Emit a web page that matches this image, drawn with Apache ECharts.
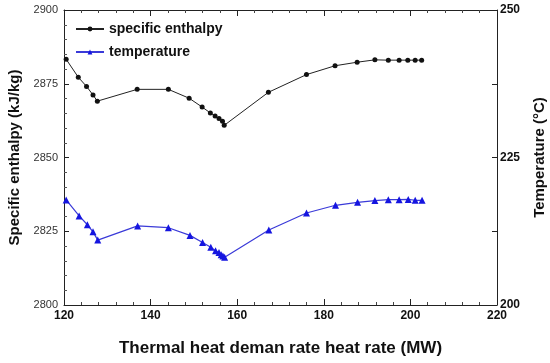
<!DOCTYPE html>
<html>
<head>
<meta charset="utf-8">
<script src="https://cdn.jsdelivr.net/npm/echarts@6/dist/echarts.min.js"></script>
<style>html,body{margin:0;padding:0;background:#fff}#c{width:550px;height:363px}</style>
</head>
<body>
<div id="c"></div>
<script>
var heatRate = [120.5, 123.3, 125.2, 126.7, 127.7, 136.9, 144.1, 148.9, 151.9, 153.8, 154.9, 155.8, 156.6, 157.0, 167.2, 176.0, 182.6, 187.7, 191.8, 194.9, 197.4, 199.4, 201.1, 202.6];
var enthalpy = [2883.3, 2877.2, 2874.1, 2871.2, 2869.1, 2873.1, 2873.1, 2870.1, 2867.1, 2865.1, 2864.1, 2863.2, 2862.3, 2860.9, 2872.1, 2878.1, 2881.1, 2882.3, 2883.1, 2883.0, 2883.0, 2883.0, 2883.0, 2883.0];
var heatRateT = [120.5, 123.5, 125.4, 126.7, 127.8, 137.0, 144.1, 149.1, 152.0, 153.9, 155.0, 155.8, 156.3, 156.7, 157.1, 167.3, 176.0, 182.7, 187.8, 191.8, 194.9, 197.4, 199.5, 201.1, 202.7];
var temperature = [217.8, 215.1, 213.6, 212.4, 211.0, 213.4, 213.1, 211.8, 210.6, 209.8, 209.2, 208.9, 208.5, 208.3, 208.1, 212.7, 215.6, 216.9, 217.4, 217.7, 217.85, 217.85, 217.9, 217.75, 217.75];
var xTicks = [120, 140, 160, 180, 200, 220];
var leftTicks = [2800, 2825, 2850, 2875, 2900];
var rightTicks = [200, 225, 250];

function pairs(xs, ys) { return xs.map(function (x, i) { return [x, ys[i]]; }); }

var chart = echarts.init(document.getElementById('c'), null, {renderer: 'canvas'});
var axisLine = {show: true, lineStyle: {color: '#222', width: 1}};
chart.setOption({
  animation: false,
  backgroundColor: '#fff',
  grid: {left: 64, right: 53, top: 10, bottom: 58, containLabel: false, outerBoundsMode: 'none'},
  legend: {
    left: 70, top: 17, orient: 'vertical', itemGap: 9, itemWidth: 28, itemHeight: 6,
    textStyle: {fontFamily: 'Liberation Sans, Arial', fontWeight: 'bold', fontSize: 14, color: '#111'},
    data: ['specific enthalpy', 'temperature']
  },
  xAxis: [{
    type: 'value', min: xTicks[0], max: xTicks[xTicks.length - 1], interval: 20,
    name: 'Thermal heat deman rate heat rate (MW)', nameLocation: 'middle', nameGap: 35,
    nameTextStyle: {fontFamily: 'Liberation Sans, Arial', fontWeight: 'bold', fontSize: 17, color: '#111'},
    axisLine: axisLine,
    axisTick: {show: true, inside: true, length: 6, lineStyle: {color: '#222'}},
    minorTick: {show: true, splitNumber: 5, length: 3, lineStyle: {color: '#444'}},
    axisLabel: {fontFamily: 'Liberation Sans, Arial', fontWeight: 'bold', fontSize: 12, color: '#111', margin: 5},
    splitLine: {show: false}
  }, {
    type: 'value', position: 'top', min: xTicks[0], max: xTicks[xTicks.length - 1], interval: 20,
    axisLine: axisLine,
    axisTick: {show: true, inside: true, length: 6, lineStyle: {color: '#222'}},
    minorTick: {show: true, splitNumber: 5, length: 3, lineStyle: {color: '#444'}},
    axisLabel: {show: false}, splitLine: {show: false}
  }],
  yAxis: [{
    type: 'value', min: leftTicks[0], max: leftTicks[leftTicks.length - 1], interval: 25,
    name: 'Specific enthalpy (kJ/kg)', nameLocation: 'middle', nameGap: 42, nameRotate: 90,
    nameTextStyle: {fontFamily: 'Liberation Sans, Arial', fontWeight: 'bold', fontSize: 15, color: '#111'},
    axisLine: axisLine,
    axisTick: {show: true, inside: true, length: 5, lineStyle: {color: '#222'}},
    minorTick: {show: true, splitNumber: 5, length: 3, lineStyle: {color: '#555'}},
    axisLabel: {fontFamily: 'Liberation Sans, Arial', fontSize: 11, color: '#333', margin: 6,
      formatter: function (v) { return String(v); }},
    splitLine: {show: false}
  }, {
    type: 'value', position: 'right', min: rightTicks[0], max: rightTicks[rightTicks.length - 1], interval: 25,
    name: 'Temperature (°C)', nameLocation: 'middle', nameGap: 35, nameRotate: 90,
    nameTextStyle: {fontFamily: 'Liberation Sans, Arial', fontWeight: 'bold', fontSize: 15, color: '#111'},
    axisLine: axisLine,
    axisTick: {show: true, inside: true, length: 5, lineStyle: {color: '#222'}},
    minorTick: {show: true, splitNumber: 2, length: 5, lineStyle: {color: '#222'}},
    axisLabel: {fontFamily: 'Liberation Sans, Arial', fontWeight: 'bold', fontSize: 12, color: '#111', margin: 3},
    splitLine: {show: false}
  }],
  series: [{
    name: 'specific enthalpy', type: 'line', xAxisIndex: 0, yAxisIndex: 0,
    data: pairs(heatRate, enthalpy),
    symbol: 'circle', symbolSize: 5,
    lineStyle: {color: '#222', width: 1},
    itemStyle: {color: '#111'}
  }, {
    name: 'temperature', type: 'line', xAxisIndex: 0, yAxisIndex: 1,
    data: pairs(heatRateT, temperature),
    symbol: 'triangle', symbolSize: 7,
    lineStyle: {color: '#3a3ad8', width: 1.2},
    itemStyle: {color: '#1515e0'}
  }]
});
</script>
</body>
</html>
